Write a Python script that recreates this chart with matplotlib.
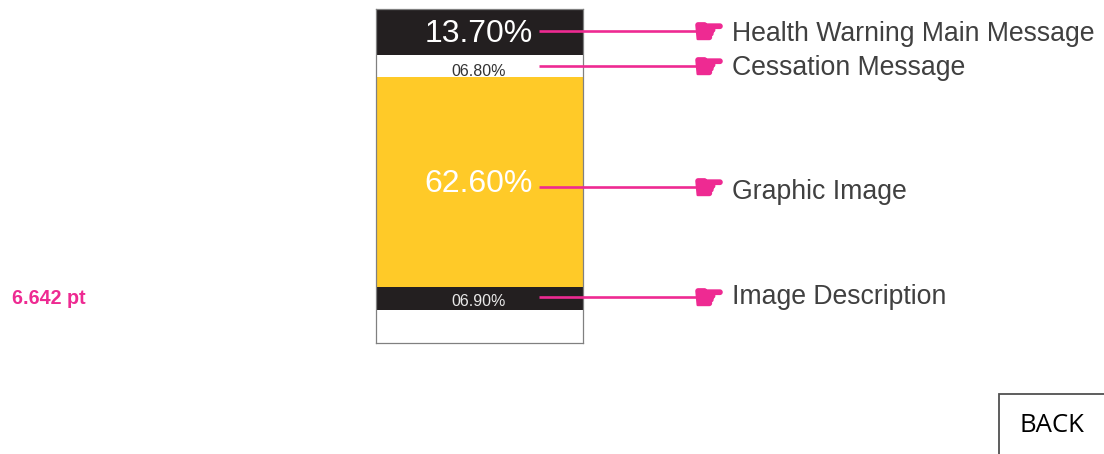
import matplotlib
matplotlib.use("Agg")
import matplotlib.pyplot as plt
import matplotlib.patheffects as pe
from matplotlib.patches import Rectangle

# Share of the pack face taken by each element (top to bottom)
elements = ["Health Warning Main Message", "Cessation Message", "Graphic Image", "Image Description", "Blank"]
shares = [13.70, 6.80, 62.60, 6.90, 10.00]
share_labels = ["13.70%", "06.80%", "62.60%", "06.90%", None]
colors = ["#231f20", "#ffffff", "#ffca28", "#231f20", "#ffffff"]
label_colors = ["#ffffff", "#333333", "#ffffff", "#e8e8e8", None]
label_sizes = [23, 11.5, 23, 11.5, 0]
label_y = [34, 72, 184, 302, 0]
callout_y = [31, 66, 187, 297, None]
text_y = [34, 68, 192, 297, None]
size_note = "6.642 pt"

pink = "#ee2a92"
W, H = 1104, 454

plt.rcParams["font.family"] = ["Liberation Sans", "DejaVu Sans"]
fig = plt.figure(figsize=(W / 100, H / 100), dpi=100)

# Stacked bar sits at fixed pixel box
ax = fig.add_axes([375.5 / W, 1 - 343 / H, 207.5 / W, 334 / H])
bottom = 0
for share, color in zip(shares, colors):
    ax.bar(0, share, bottom=bottom, width=1, color=color, edgecolor="none")
    bottom += share
ax.set_xlim(-0.5, 0.5)
ax.set_ylim(bottom, 0)
ax.set_xticks([])
ax.set_yticks([])
for s in ax.spines.values():
    s.set_color("#808080")
    s.set_linewidth(0.9)

# Overlay in pixel coordinates for labels and callouts
ov = fig.add_axes([0, 0, 1, 1])
ov.set_xlim(0, W)
ov.set_ylim(H, 0)
ov.axis("off")
ov.patch.set_alpha(0)

for name, lab, lc, ls, ly, cy, ty in zip(elements, share_labels, label_colors, label_sizes,
                                         label_y, callout_y, text_y):
    if lab is None:
        continue
    ov.text(533 if ls > 15 else 479, ly, lab, color=lc, fontsize=ls,
            ha="right" if ls > 15 else "center", va="center")
    ov.plot([539, 700], [cy, cy], color=pink, lw=1.9, solid_capstyle="butt")
    # hand glyph is thin, a stroke in the same colour fills it in
    ov.text(709, cy + 2, "\u261b", color=pink, fontsize=25, ha="center", va="center",
            family="DejaVu Sans",
            path_effects=[pe.withStroke(linewidth=1.6, foreground=pink)])
    ov.text(732, ty, name, color="#404040", fontsize=19.2, ha="left", va="center")

ov.text(12, 299, size_note, color=pink, fontsize=14.2, fontweight="bold", ha="left", va="center")

# BACK button runs off the bottom right corner
ov.add_patch(Rectangle((999, 394), 120, 80, facecolor="white", edgecolor="#505050", lw=1.3, clip_on=True))
ov.text(1051.5, 426, "BACK", color="black", fontsize=18.5, family="Open Sans", ha="center", va="center")

fig.savefig("out.png", dpi=100)
